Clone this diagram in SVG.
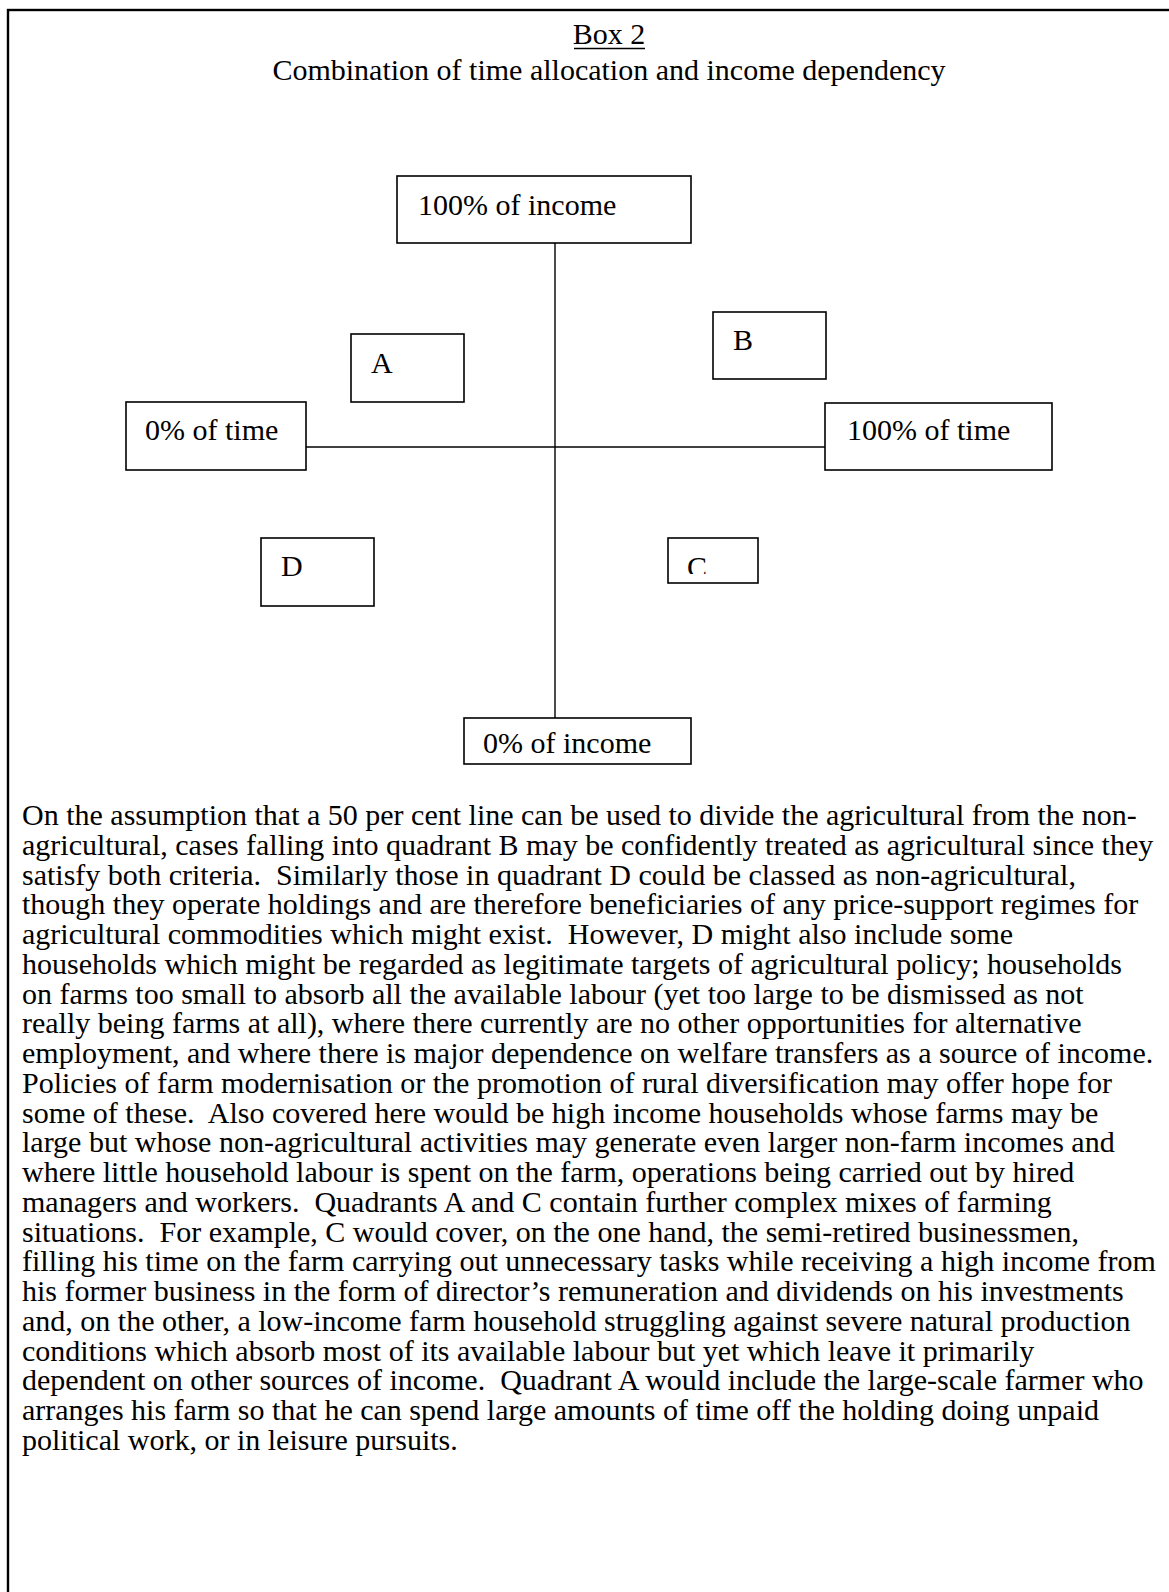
<svg xmlns="http://www.w3.org/2000/svg" width="1169" height="1592" viewBox="0 0 1169 1592">
<style>
  text { font-family: "Liberation Serif", "Times New Roman", serif; font-size: 30px; fill: #000; white-space: pre; }
  .box { fill: #fff; stroke: #000; stroke-width: 1.6; }
  .axis { stroke: #000; stroke-width: 1.4; fill: none; }
  .title { text-anchor: middle; }
</style>
<defs>
  <clipPath id="clipC"><rect x="668" y="538" width="90" height="36"/></clipPath>
</defs>
<rect x="8" y="10" width="1180" height="1600" fill="#fff" stroke="#000" stroke-width="2.4"/>
<g id="title">
  <text class="title" x="609" y="44">Box 2</text>
  <line x1="574" y1="48.5" x2="645" y2="48.5" stroke="#000" stroke-width="1.6"/>
  <text class="title" x="609" y="80">Combination of time allocation and income dependency</text>
</g>
<g id="connectors">
  <line class="axis" x1="555" y1="243" x2="555" y2="718"/>
  <line class="axis" x1="306" y1="447" x2="825" y2="447"/>
</g>
<g id="node-income100">
  <rect class="box" x="397" y="176" width="294" height="67"/>
  <text x="418" y="215">100% of income</text>
</g>
<g id="node-time0">
  <rect class="box" x="126" y="402" width="180" height="68"/>
  <text x="145" y="440">0% of time</text>
</g>
<g id="node-time100">
  <rect class="box" x="825" y="403" width="227" height="67"/>
  <text x="847" y="440">100% of time</text>
</g>
<g id="node-income0">
  <rect class="box" x="464" y="718" width="227" height="46"/>
  <text x="483" y="753">0% of income</text>
</g>
<g id="node-A">
  <rect class="box" x="351" y="334" width="113" height="68"/>
  <text x="371" y="373">A</text>
</g>
<g id="node-B">
  <rect class="box" x="713" y="312" width="113" height="67"/>
  <text x="733" y="350">B</text>
</g>
<g id="node-D">
  <rect class="box" x="261" y="538" width="113" height="68"/>
  <text x="281" y="576">D</text>
</g>
<g id="node-C">
  <rect class="box" x="668" y="538" width="90" height="45"/>
  <text x="687" y="577" clip-path="url(#clipC)">C</text>
</g>
<g id="body">
  <text x="22" y="825">On the assumption that a 50 per cent line can be used to divide the agricultural from the non-</text>
  <text x="22" y="854.75">agricultural, cases falling into quadrant B may be confidently treated as agricultural since they</text>
  <text x="22" y="884.5">satisfy both criteria.  Similarly those in quadrant D could be classed as non-agricultural,</text>
  <text x="22" y="914.25">though they operate holdings and are therefore beneficiaries of any price-support regimes for</text>
  <text x="22" y="944">agricultural commodities which might exist.  However, D might also include some</text>
  <text x="22" y="973.75">households which might be regarded as legitimate targets of agricultural policy; households</text>
  <text x="22" y="1003.5">on farms too small to absorb all the available labour (yet too large to be dismissed as not</text>
  <text x="22" y="1033.25">really being farms at all), where there currently are no other opportunities for alternative</text>
  <text x="22" y="1063">employment, and where there is major dependence on welfare transfers as a source of income.</text>
  <text x="22" y="1092.75">Policies of farm modernisation or the promotion of rural diversification may offer hope for</text>
  <text x="22" y="1122.5">some of these.  Also covered here would be high income households whose farms may be</text>
  <text x="22" y="1152.25">large but whose non-agricultural activities may generate even larger non-farm incomes and</text>
  <text x="22" y="1182">where little household labour is spent on the farm, operations being carried out by hired</text>
  <text x="22" y="1211.75">managers and workers.  Quadrants A and C contain further complex mixes of farming</text>
  <text x="22" y="1241.5">situations.  For example, C would cover, on the one hand, the semi-retired businessmen,</text>
  <text x="22" y="1271.25">filling his time on the farm carrying out unnecessary tasks while receiving a high income from</text>
  <text x="22" y="1301">his former business in the form of director’s remuneration and dividends on his investments</text>
  <text x="22" y="1330.75">and, on the other, a low-income farm household struggling against severe natural production</text>
  <text x="22" y="1360.5">conditions which absorb most of its available labour but yet which leave it primarily</text>
  <text x="22" y="1390.25">dependent on other sources of income.  Quadrant A would include the large-scale farmer who</text>
  <text x="22" y="1420">arranges his farm so that he can spend large amounts of time off the holding doing unpaid</text>
  <text x="22" y="1449.75">political work, or in leisure pursuits.</text>
</g>
</svg>
